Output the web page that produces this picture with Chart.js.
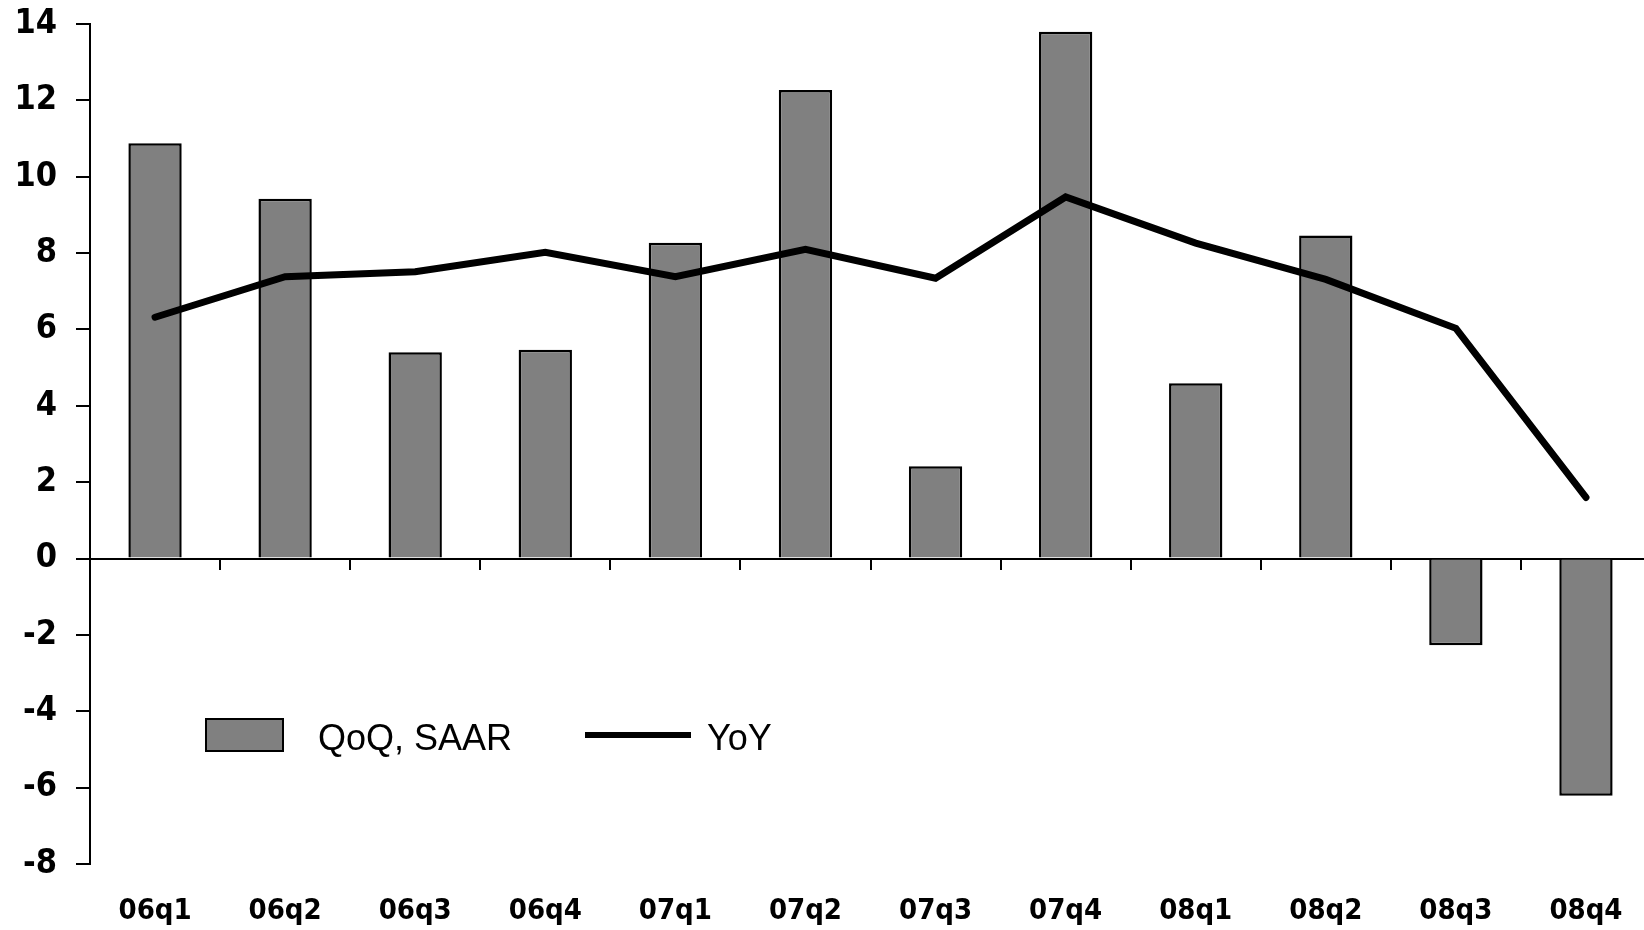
<!DOCTYPE html>
<html>
<head>
<meta charset="utf-8">
<script src="https://cdn.jsdelivr.net/npm/chart.js@4/dist/chart.umd.min.js"></script>
<style>
  html, body { margin: 0; padding: 0; background: #ffffff; overflow: hidden; }
  #wrap { width: 1651px; height: 930px; }
</style>
</head>
<body>
<div id="wrap"><canvas id="c" width="1651" height="930"></canvas></div>
<script>
// Quarterly growth, percent
const quarters = ['06q1', '06q2', '06q3', '06q4', '07q1', '07q2', '07q3', '07q4', '08q1', '08q2', '08q3', '08q4'];
const qoqSaar = [10.88, 9.42, 5.40, 5.47, 8.27, 12.27, 2.42, 13.80, 4.59, 8.46, -2.27, -6.21];
const yoy = [6.32, 7.38, 7.51, 8.02, 7.38, 8.10, 7.34, 9.47, 8.26, 7.31, 6.03, 1.60];
const yTickValues = [-8, -6, -4, -2, 0, 2, 4, 6, 8, 10, 12, 14];

const axisFont = "'DejaVu Sans Condensed', 'DejaVu Sans', sans-serif";

// Legend drawn inside the plot area, lower left
const insideLegend = {
  id: 'insideLegend',
  afterDatasetsDraw(chart) {
    const { ctx, chartArea } = chart;
    const bars = chart.data.datasets.find(d => d.type === 'bar');
    const line = chart.data.datasets.find(d => d.type === 'line');
    const left = chartArea.left;
    const top = chartArea.top;
    ctx.save();
    // bar swatch
    ctx.fillStyle = bars.backgroundColor;
    ctx.fillRect(left + 116, top + 695, 77, 32);
    ctx.lineWidth = 2;
    ctx.strokeStyle = bars.borderColor;
    ctx.strokeRect(left + 116, top + 695, 77, 32);
    // line swatch
    ctx.beginPath();
    ctx.lineWidth = 6;
    ctx.strokeStyle = line.borderColor;
    ctx.lineCap = 'butt';
    ctx.moveTo(left + 495, top + 711);
    ctx.lineTo(left + 601, top + 711);
    ctx.stroke();
    // labels
    ctx.fillStyle = '#000000';
    ctx.font = "36px 'Liberation Sans', Arial, sans-serif";
    ctx.textBaseline = 'alphabetic';
    ctx.textAlign = 'left';
    ctx.fillText(bars.label, left + 228, top + 726);
    ctx.fillText(line.label, left + 617, top + 726);
    ctx.restore();
  }
};

new Chart(document.getElementById('c'), {
  data: {
    labels: quarters,
    datasets: [
      {
        type: 'line',
        label: 'YoY',
        data: yoy,
        borderColor: '#000000',
        borderWidth: 7,
        pointRadius: 0,
        pointHoverRadius: 0,
        tension: 0,
        fill: false,
        borderCapStyle: 'round',
        borderJoinStyle: 'miter',
        order: 0
      },
      {
        type: 'bar',
        label: 'QoQ, SAAR',
        data: qoqSaar,
        backgroundColor: '#808080',
        borderColor: '#000000',
        borderWidth: 2.5,
        borderSkipped: 'start',
        categoryPercentage: 1.0,
        barPercentage: 0.41,
        order: 1
      }
    ]
  },
  options: {
    responsive: false,
    animation: false,
    devicePixelRatio: 1,
    layout: { padding: { top: 24, left: 0, right: 0, bottom: 0 } },
    plugins: {
      legend: { display: false },
      tooltip: { enabled: false }
    },
    scales: {
      x: {
        type: 'category',
        position: 'bottom',
        offset: true,
        grid: { display: false, drawTicks: false },
        border: { display: false },
        ticks: {
          color: '#000000',
          padding: 30,
          maxRotation: 0,
          autoSkip: false,
          font: { family: axisFont, size: 29, weight: 'bold' }
        },
        afterFit(scale) {
          scale.height = 66;
          scale.paddingLeft = 0;
          scale.paddingRight = 0;
        }
      },
      x0: {
        type: 'category',
        position: { y: 0 },
        offset: true,
        grid: {
          offset: true,
          drawOnChartArea: false,
          drawTicks: true,
          tickLength: 10,
          color: '#000000',
          lineWidth: 2
        },
        border: { display: true, color: '#000000', width: 2 },
        ticks: { display: false }
      },
      y: {
        type: 'linear',
        position: 'left',
        min: yTickValues[0],
        max: yTickValues[yTickValues.length - 1],
        grid: {
          drawOnChartArea: false,
          drawTicks: true,
          tickLength: 14,
          color: '#000000',
          lineWidth: 2
        },
        border: { display: true, color: '#000000', width: 2 },
        ticks: {
          stepSize: yTickValues[1] - yTickValues[0],
          color: '#000000',
          padding: 19,
          font: { family: axisFont, size: 34, weight: 'bold' }
        },
        afterFit(scale) {
          scale.width = 90;
          scale.paddingTop = 0;
          scale.paddingBottom = 0;
        }
      }
    }
  },
  plugins: [insideLegend]
});
</script>
</body>
</html>
